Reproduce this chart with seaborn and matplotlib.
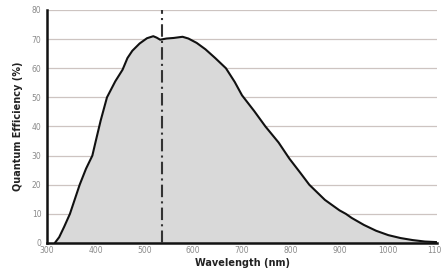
import numpy as np
import pandas as pd
import matplotlib
matplotlib.use("Agg")
import matplotlib.pyplot as plt
import seaborn as sns

# Quantum efficiency curve
wavelength = [316, 325, 335, 347, 357, 367, 380, 393, 400, 410, 423, 440, 455, 465,
              475, 490, 505, 518, 525, 532, 545, 560, 578, 590, 607, 625, 645, 667,
              685, 700, 725, 748, 775, 797, 820, 838, 870, 900, 913, 925, 950, 975,
              1000, 1025, 1050, 1075, 1100]
qe = [0, 2, 5.5, 10, 15, 20, 25.5, 30, 35, 42, 50, 55.5, 59.5, 63.5,
      66, 68.5, 70.3, 71, 70.5, 69.8, 70.2, 70.4, 70.8, 70.2, 68.7, 66.5, 63.5, 60,
      55.3, 50.7, 45.3, 40, 34.5, 29, 24, 20, 14.8, 11.2, 10, 8.6, 6.2, 4.2,
      2.7, 1.7, 1.0, 0.5, 0.3]
marker_wl = 535
x_ticks = [300, 400, 500, 600, 700, 800, 900, 1000, 1100]
y_ticks = [0, 10, 20, 30, 40, 50, 60, 70, 80]

df = pd.DataFrame({"Wavelength": wavelength, "QE": qe})

sns.set_style("white")
plt.rcParams['font.family'] = ['DejaVu Sans']

fig = plt.figure(figsize=(4.41, 2.76), dpi=100)
ax = fig.add_axes([0.1066, 0.1196, 0.8844, 0.8442])

# grid lines
for y in y_ticks[1:]:
    ax.axhline(y, color="#cdc4c1", lw=0.9, zorder=0)

ax.fill_between(df["Wavelength"], df["QE"], 0, color="#d9d9d9", zorder=1, lw=0)
sns.lineplot(data=df, x="Wavelength", y="QE", ax=ax, color="#111111", lw=1.5, zorder=3)
ax.axvline(marker_wl, color="#333333", lw=1.5, ls=(0, (6, 2, 1, 2)), zorder=4)

ax.set_xlim(300, 1100)
ax.set_ylim(0, 80)
ax.set_xticks(x_ticks)
ax.set_yticks(y_ticks)
ax.tick_params(axis="x", direction="in", length=3, width=1, colors="#222222",
               labelcolor="#8a8a8a", labelsize=5.5, pad=2)
ax.tick_params(axis="y", direction="out", length=3, width=1.2, colors="#222222",
               labelcolor="#8a8a8a", labelsize=5.5, pad=1)
for s in ["top", "right"]:
    ax.spines[s].set_visible(False)
for s in ["left", "bottom"]:
    ax.spines[s].set_linewidth(1.8)
    ax.spines[s].set_color("#111111")

ax.set_xlabel("Wavelength (nm)", fontsize=7, fontweight="bold", color="#222222", labelpad=2)
ax.set_ylabel("Quantum Efficiency (%)", fontsize=7, fontweight="bold", color="#222222", labelpad=6)

fig.savefig("out.png", dpi=100)
